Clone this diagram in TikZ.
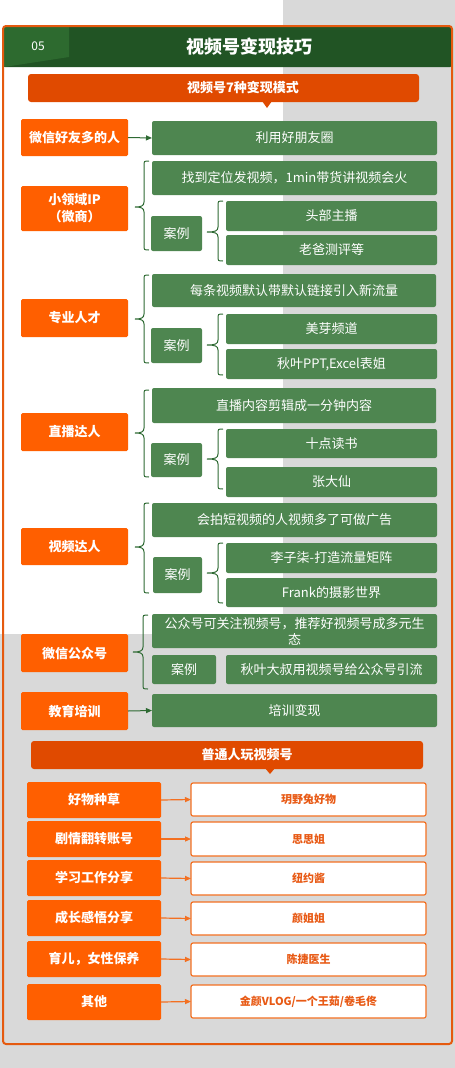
\documentclass[tikz,border=0pt]{standalone}
\usepackage{fontspec}
\setmainfont{Noto Sans CJK SC}
\usetikzlibrary{arrows.meta}
\definecolor{bgray}{HTML}{D9D9D9}
\definecolor{hdr}{HTML}{215424}
\definecolor{tabg}{HTML}{2D6A2F}
\definecolor{frameo}{HTML}{E55A0F}
\definecolor{bannero}{HTML}{E04A00}
\definecolor{lorange}{HTML}{FF5F00}
\definecolor{gfill}{HTML}{4E8650}
\definecolor{bracec}{HTML}{2E6A33}
\definecolor{borange}{HTML}{F37021}
\definecolor{torange}{HTML}{E85A15}
\newcommand\bx[7]{\node[#6, minimum width={(#4)-(#2)}, minimum height={(#5)-(#3)}] (#1) at ({((#2)+(#4))/2},{((#3)+(#5))/2}) {#7};}
% xtip, xv, xend, ytop, ytip, ybot
\newcommand\brc[6]{\draw[bracestyle] (#3,#4) .. controls (#2,#4) .. (#2,#4+5) -- (#2,#5-5) .. controls (#2,#5-1) and (#2-3,#5) .. (#1,#5) .. controls (#2-3,#5) and (#2,#5+1) .. (#2,#5+5) -- (#2,#6-5) .. controls (#2,#6) .. (#3,#6);}
\tikzset{
  lbox/.style={fill=lorange, text=white, font=\bfseries\fontsize{13}{17}\selectfont, rounded corners=1.5pt, inner sep=0pt, outer sep=0pt, align=center},
  gbox/.style={fill=gfill, text=white, font=\fontsize{13}{16}\selectfont, rounded corners=2pt, inner sep=0pt, outer sep=0pt, align=center},
  banner/.style={fill=bannero, rounded corners=3pt, inner sep=0pt, outer sep=0pt},
  bannertext/.style={text=white, font=\bfseries\fontsize{13}{16}\selectfont, inner sep=0pt},
  wbox/.style={draw=borange, line width=1.2pt, fill=white, text=torange, font=\bfseries\fontsize{11}{14}\selectfont, rounded corners=2pt, inner sep=0pt, outer sep=0pt},
  bracestyle/.style={draw=bracec, line width=1pt},
  garrow/.style={draw=bracec, line width=1pt, -{Triangle[length=6pt,width=5pt]}},
  oarrow/.style={draw=borange, line width=1.2pt, -{Triangle[length=6pt,width=5pt]}},
}
\begin{document}
\begin{tikzpicture}[x=1pt,y=-1pt]
\useasboundingbox (0,0) rectangle (455,1068);
\fill[bgray] (283,0) rectangle (455,634);
\fill[bgray] (0,634) rectangle (455,1068);
% header
\fill[hdr, rounded corners=2pt] (3,26) rectangle (452,67);
\fill[tabg] (4,27) -- (69,27) -- (69,57) -- (4,67) -- cycle;
\node[text=white, font=\fontsize{12}{14}\selectfont] (num) at (38,46) {05};
\node[text=white, font=\bfseries\fontsize{18}{20}\selectfont] (title) at (249,47) {视频号变现技巧};
\draw[frameo, line width=2pt, rounded corners=3pt] (3,26) rectangle (452,1044);
% banner 1
\bx{ban1}{28}{74}{419}{102}{banner}{}
\node[bannertext] (ban1t) at (243,88) {视频号7种变现模式};
\fill[bannero] (262,101) -- (272,101) -- (267,108) -- cycle;
% group 1
\bx{l1}{21}{119}{128}{156}{lbox}{微信好友多的人}
\bx{g1}{152}{121}{437}{155}{gbox}{利用好朋友圈}
\draw[garrow] (l1.east) -- (g1.west);
% group 2
\bx{l2}{21}{186}{128}{231}{lbox}{小领域IP\\（微商）}
\bx{g2}{152}{161}{437}{195}{gbox}{找到定位发视频，1min带货讲视频会火}
\bx{c2}{151}{216}{202}{251}{gbox}{案例}
\bx{g2a}{226}{201}{437}{231}{gbox}{头部主播}
\bx{g2b}{226}{235}{437}{265}{gbox}{老爸测评等}
\brc{135}{144}{149}{161}{207}{250}
\brc{207}{218}{223}{201}{232}{261}
% group 3
\bx{l3}{21}{299}{128}{337}{lbox}{专业人才}
\bx{g3}{152}{274}{436}{307}{gbox}{每条视频默认带默认链接引入新流量}
\bx{c3}{151}{328}{202}{363}{gbox}{案例}
\bx{g3a}{226}{314}{437}{344}{gbox}{美芽频道}
\bx{g3b}{226}{349}{437}{379}{gbox}{秋叶PPT,Excel表姐}
\brc{135}{144}{149}{275}{319}{363}
\brc{207}{218}{223}{314}{345}{375}
% group 4
\bx{l4}{21}{413}{128}{451}{lbox}{直播达人}
\bx{g4}{152}{388}{436}{423}{gbox}{直播内容剪辑成一分钟内容}
\bx{c4}{151}{443}{202}{477}{gbox}{案例}
\bx{g4a}{226}{429}{437}{458}{gbox}{十点读书}
\bx{g4b}{226}{467}{437}{497}{gbox}{张大仙}
\brc{135}{144}{149}{390}{433}{477}
\brc{207}{218}{223}{429}{459}{489}
% group 5
\bx{l5}{21}{528}{128}{565}{lbox}{视频达人}
\bx{g5}{152}{503}{437}{537}{gbox}{会拍短视频的人视频多了可做广告}
\bx{c5}{153}{557}{202}{593}{gbox}{案例}
\bx{g5a}{226}{543}{437}{573}{gbox}{李子柒-打造流量矩阵}
\bx{g5b}{226}{578}{437}{607}{gbox}{Frank的摄影世界}
\brc{135}{144}{149}{503}{547}{593}
\brc{207}{218}{223}{543}{573}{603}
% group 6
\bx{l6}{21}{634}{128}{672}{lbox}{微信公众号}
\bx{g6}{152}{614}{437}{648}{gbox}{公众号可关注视频号，推荐好视频号成多元生\\态}
\bx{c6}{152}{655}{216}{684}{gbox}{案例}
\bx{g6a}{226}{655}{437}{684}{gbox}{秋叶大叔用视频号给公众号引流}
\brc{133}{143}{148}{615}{652}{689}
% group 7
\bx{l7}{21}{692}{128}{730}{lbox}{教育培训}
\bx{g7}{152}{694}{437}{727}{gbox}{培训变现}
\draw[garrow] (l7.east) -- (g7.west);
% banner 2
\bx{ban2}{31}{741}{423}{769}{banner}{}
\node[bannertext] (ban2t) at (247,755) {普通人玩视频号};
\fill[bannero] (265,768) -- (275,768) -- (270,774) -- cycle;
% bottom rows
\bx{o1}{27}{782}{161}{818}{lbox}{好物种草}
\bx{w1}{191}{783}{426}{816}{wbox}{玥野兔好物}
\draw[oarrow] (o1.east) -- (w1.west);
\bx{o2}{27}{821}{161}{857}{lbox}{剧情翻转账号}
\bx{w2}{191}{822}{426}{856}{wbox}{思思姐}
\draw[oarrow] (o2.east) -- (w2.west);
\bx{o3}{27}{860}{161}{896}{lbox}{学习工作分享}
\bx{w3}{191}{862}{426}{895}{wbox}{纽约酱}
\draw[oarrow] (o3.east) -- (w3.west);
\bx{o4}{27}{900}{161}{936}{lbox}{成长感悟分享}
\bx{w4}{191}{902}{426}{935}{wbox}{颜姐姐}
\draw[oarrow] (o4.east) -- (w4.west);
\bx{o5}{27}{941}{161}{977}{lbox}{育儿，女性保养}
\bx{w5}{191}{943}{426}{976}{wbox}{陈捷医生}
\draw[oarrow] (o5.east) -- (w5.west);
\bx{o6}{27}{984}{161}{1020}{lbox}{其他}
\bx{w6}{191}{985}{426}{1018}{wbox}{金颜VLOG/一个王茹/卷毛佟}
\draw[oarrow] (o6.east) -- (w6.west);
\end{tikzpicture}
\end{document}
